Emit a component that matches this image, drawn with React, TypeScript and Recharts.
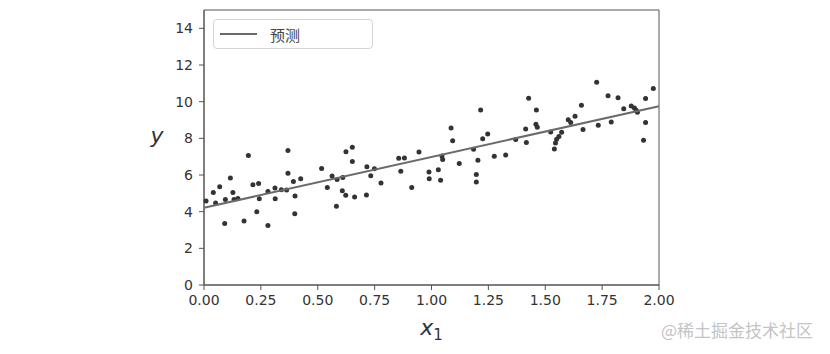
import { ReferenceArea, Scatter, ScatterChart, XAxis, YAxis } from 'recharts';

// sample points (x1, y)
const xs = [
  0.009, 0.041, 0.051, 0.069, 0.091, 0.094, 0.116, 0.127, 0.132, 0.149,
  0.176, 0.195, 0.215, 0.24, 0.232, 0.243, 0.281, 0.281, 0.312, 0.313,
  0.34, 0.363, 0.369, 0.369, 0.393, 0.4, 0.399, 0.425,
  0.517, 0.542, 0.563, 0.582, 0.585, 0.61, 0.608, 0.623, 0.624, 0.652,
  0.652, 0.662, 0.716, 0.714, 0.733, 0.749, 0.778, 0.856, 0.881, 0.865,
  0.913, 0.945, 0.989, 0.99,
  1.03, 1.04, 1.046, 1.049, 1.086, 1.093, 1.122, 1.185, 1.197, 1.197,
  1.204, 1.216, 1.225, 1.247, 1.276, 1.326, 1.37, 1.417, 1.414, 1.427,
  1.461, 1.459, 1.465,
  1.524, 1.54, 1.545, 1.55, 1.56, 1.572, 1.601, 1.612, 1.631, 1.659,
  1.666, 1.726, 1.733, 1.776, 1.79, 1.82, 1.845, 1.878, 1.892, 1.9,
  1.905, 1.941, 1.941, 1.932, 1.975,
];
const ys = [
  4.58, 5.05, 4.47, 5.36, 3.36, 4.67, 5.83, 5.05, 4.67, 4.72,
  3.49, 7.07, 5.47, 5.54, 3.99, 4.7, 3.25, 5.1, 5.29, 4.7,
  5.2, 5.18, 7.33, 6.09, 5.65, 4.85, 3.89, 5.8,
  6.36, 5.32, 5.94, 4.29, 5.76, 5.87, 5.14, 4.89, 7.27, 7.51,
  6.74, 4.8, 6.45, 4.91, 5.96, 6.34, 5.56, 6.91, 6.93, 6.2,
  5.32, 7.26, 6.16, 5.8,
  6.29, 5.72, 7.04, 6.84, 8.57, 7.87, 6.63, 7.4, 6.03, 5.62,
  6.8, 9.55, 7.98, 8.24, 7.02, 7.09, 7.93, 7.77, 8.51, 10.19,
  9.55, 8.77, 8.6,
  8.35, 7.42, 7.75, 7.95, 8.1, 8.33, 9.02, 8.87, 9.2, 9.8,
  8.48, 11.06, 8.71, 10.32, 8.89, 10.22, 9.62, 9.77, 9.66, 9.53,
  9.42, 10.17, 8.86, 7.89, 10.72,
];

// prediction line endpoints
const predX = [0, 2];
const predY = [4.215, 9.755];

const xTicks = [0, 0.25, 0.5, 0.75, 1, 1.25, 1.5, 1.75, 2];
const yTicks = [0, 2, 4, 6, 8, 10, 12, 14];

const points = xs.map((x, i) => ({ x, y: ys[i] }));
const pred = predX.map((x, i) => ({ x, y: predY[i] }));

const font = '"DejaVu Sans", sans-serif';
const cjk = '"Noto Sans CJK SC", sans-serif';

const Dot = (props: any) => <circle cx={props.cx} cy={props.cy} r={2.5} fill="#333" />;

const XLabel = (props: any) => {
  const { x, y, width } = props.viewBox;
  return (
    <text x={x + width / 2} y={y + 50} textAnchor="middle" fontFamily={font} fill="#333" fontSize={22}>
      <tspan fontStyle="italic">x</tspan>
      <tspan fontSize={15} dy={5}>1</tspan>
    </text>
  );
};

const YLabel = (props: any) => {
  const { x, y, height } = props.viewBox;
  return (
    <text x={x + 13} y={y + height / 2 - 5} textAnchor="middle" fontFamily={font} fill="#333" fontSize={22} fontStyle="italic">
      y
    </text>
  );
};

export default function App() {
  return (
    <div style={{ position: 'absolute', left: 0, top: 0, width: 830, height: 354, background: '#fff' }}>
      <ScatterChart width={830} height={354} margin={{ top: 10, right: 171, bottom: 39, left: 144 }}>
        <XAxis
          type="number"
          dataKey="x"
          domain={[0, 2]}
          ticks={xTicks}
          interval={0}
          tickFormatter={(v: number) => v.toFixed(2)}
          height={30}
          tickSize={5}
          tickMargin={5}
          stroke="#555"
          tick={{ fill: '#333', fontSize: 14, fontFamily: font }}
          label={<XLabel />}
        />
        <YAxis
          type="number"
          dataKey="y"
          domain={[0, 15]}
          ticks={yTicks}
          interval={0}
          width={60}
          tickSize={5}
          tickMargin={6}
          stroke="#555"
          tick={{ fill: '#333', fontSize: 14, fontFamily: font }}
          label={<YLabel />}
        />
        <ReferenceArea x1={0} x2={2} y1={0} y2={15} fill="none" stroke="#555" strokeWidth={1} />
        <Scatter data={points} shape={<Dot />} isAnimationActive={false} />
        <Scatter
          name="预测"
          data={pred}
          line={{ stroke: '#6a6a6a', strokeWidth: 2 }}
          shape={() => null}
          isAnimationActive={false}
        />
      </ScatterChart>

      {/* legend */}
      <div
        style={{
          position: 'absolute',
          left: 213,
          top: 19,
          width: 160,
          height: 30,
          border: '1px solid #d5d5d5',
          borderRadius: 4,
          background: '#fff',
          display: 'flex',
          alignItems: 'center',
          boxSizing: 'border-box',
          fontFamily: cjk,
          fontSize: 15,
          color: '#444',
        }}
      >
        <span style={{ display: 'inline-block', width: 37, height: 2, background: '#6a6a6a', marginLeft: 6 }} />
        <span style={{ marginLeft: 13 }}>预测</span>
      </div>

      {/* watermark */}
      <div style={{ position: 'absolute', left: 661, top: 317, fontFamily: cjk, fontSize: 17, color: '#c4c4c4' }}>
        @稀土掘金技术社区
      </div>
    </div>
  );
}
